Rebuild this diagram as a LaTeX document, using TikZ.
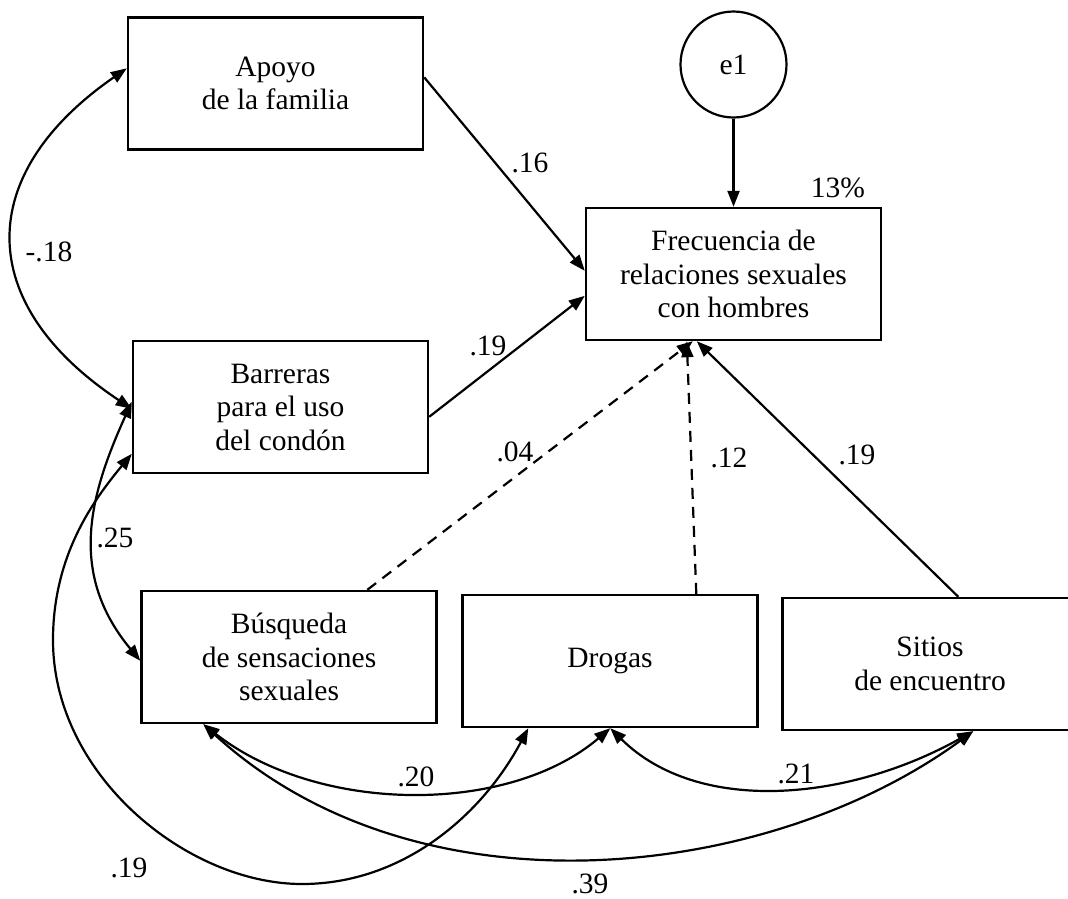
\documentclass[tikz,border=0pt]{standalone}
\usepackage{fontspec}
\setmainfont{Liberation Serif}
\usetikzlibrary{arrows.meta,calc}
\begin{document}
\begin{tikzpicture}[x=1pt,y=-1pt,
  every node/.style={font=\fontsize{29.5}{33.5}\selectfont},
  var/.style={draw,line width=2.4pt,minimum width=295pt,minimum height=132pt,align=center,inner sep=0pt},
  errc/.style={draw,circle,line width=2.2pt,minimum size=106pt,inner sep=0pt},
  path/.style={line width=2.2pt,-{Triangle[length=16pt,width=12pt]}},
  dpath/.style={path,dash pattern=on 11pt off 8pt},
  cov/.style={line width=2.2pt,{Triangle[length=16pt,width=12pt]}-{Triangle[length=16pt,width=12pt]}},
  lab/.style={inner sep=0pt}
]
\clip (0,0) rectangle (1068,898);
\fill[white] (0,0) rectangle (1068,898);

% variables
\node[var] (apoyo) at (275.5,83.5) {Apoyo\\de la familia};
\node[var] (barr) at (280.5,407) {Barreras\\para el uso\\del condón};
\node[var] (frec) at (733.5,274) {Frecuencia de\\relaciones sexuales\\con hombres};
\node[var] (bus) at (289,657) {Búsqueda\\de sensaciones\\sexuales};
\node[var] (drog) at (610,661) {Drogas};
\node[var] (sit) at (930,664) {Sitios\\de encuentro};
\node[errc] (e1) at (733.5,64.5) {e1};
\node[lab] (r2) at (838,188) {13\%};

% regression paths
\draw[path] (e1.south) -- (frec.north);
\draw[path] ($(apoyo.north east)+(0,61)$) -- ($(frec.north west)+(0,64)$);
\draw[path] ($(barr.north east)+(0,77)$) -- ($(frec.north west)+(0,89)$);
\draw[dpath] ($(bus.north west)+(227,0)$) -- ($(frec.south west)+(108,0)$);
\draw[dpath] ($(drog.north west)+(235,0)$) -- ($(frec.south west)+(102,0)$);
\draw[path] ($(sit.north west)+(177,0)$) -- ($(frec.south west)+(112,0)$);

% covariances
\draw[cov] ($(apoyo.north west)+(0,52)$) .. controls +(-153,106) and +(-158,-105) .. ($(barr.north west)+(0,69)$);
\draw[cov] ($(barr.north west)+(0,62)$) .. controls +(-43,95) and +(-72,-87) .. ($(bus.north west)+(0,71)$);
\coordinate (c19a) at (53,640);
\coordinate (c19b) at (302,884);
\draw[cov] ($(barr.north west)+(0,114)$) .. controls +(-38,46) and +(0,-85) .. (c19a)
   .. controls +(0,135) and +(-115,0) .. (c19b)
   .. controls +(100,0) and +(-47,88) .. ($(drog.south west)+(67,0)$);
\draw[cov] ($(bus.south west)+(63,0)$) .. controls +(115,90) and +(-102,87) .. ($(drog.south west)+(149,0)$);
\draw[cov] ($(bus.south west)+(63,0)$) .. controls +(215,197) and +(-205,150) .. ($(sit.south west)+(192,0)$);
\draw[cov] ($(drog.south west)+(149,0)$) .. controls +(88,87) and +(-125,70) .. ($(sit.south west)+(192,0)$);

% labels
\node[lab] (l16) at (530,163) {.16};
\node[lab] (l18) at (49,252) {-.18};
\node[lab] (l19a) at (488,346) {.19};
\node[lab] (l04) at (515,452) {.04};
\node[lab] (l12) at (729,458) {.12};
\node[lab] (l19b) at (857,455) {.19};
\node[lab] (l25) at (115,538) {.25};
\node[lab] (l20) at (416,777) {.20};
\node[lab] (l21) at (796,774) {.21};
\node[lab] (l19c) at (129,868) {.19};
\node[lab] (l39) at (590,884) {.39};
\end{tikzpicture}
\end{document}
